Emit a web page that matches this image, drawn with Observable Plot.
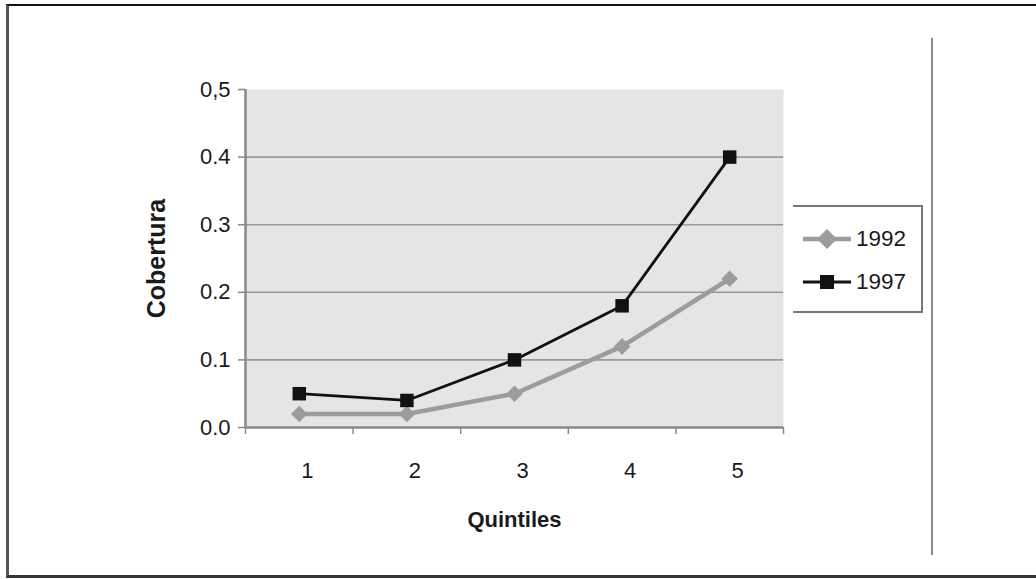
<!DOCTYPE html>
<html>
<head>
<meta charset="utf-8">
<script src="https://cdn.jsdelivr.net/npm/d3@7"></script>
<script src="https://cdn.jsdelivr.net/npm/@observablehq/plot@0.6"></script>
<style>
  html, body { margin: 0; padding: 0; background: #fff; overflow: hidden; }
  #wrap { position: relative; width: 1036px; height: 579px; font-family: "Liberation Sans", Arial, sans-serif; color: #1a1a1a; }
  #frame { position: absolute; left: 6px; top: 4px; width: 1040px; height: 569px; border-top: 2px solid #111; border-left: 3px solid #555; border-bottom: 3px solid #333; box-sizing: content-box; }
  #divider { position: absolute; left: 931px; top: 38px; width: 2px; height: 517px; background: #8a8a8a; }
  #chart { position: absolute; left: 0; top: 0; }
  #legend { position: absolute; left: 793px; top: 205px; width: 128px; height: 104px; border-top: 2px solid #777; border-right: 2px solid #777; border-bottom: 2px solid #777; background: #fff; }
  .item { position: absolute; left: 8px; height: 24px; display: flex; align-items: center; font-size: 22.5px; color: #1a1a1a; }
  .item svg { margin-right: 3px; }
  g[aria-label="y-axis label"] text, g[aria-label="x-axis label"] text { font-weight: bold; }
  g[aria-label="y-axis label"] text { font-size: 25px; }
  g[aria-label="x-axis label"] text { font-size: 22px; }
</style>
</head>
<body>
<div id="wrap">
  <div id="frame"></div>
  <div id="divider"></div>
  <div id="chart"></div>
  <div id="legend"></div>
</div>
<script>
// ---- data ----
const quintiles = [1, 2, 3, 4, 5];
const series = ["1992", "1997"];
const values1992 = [0.02, 0.02, 0.05, 0.12, 0.22];
const values1997 = [0.05, 0.04, 0.10, 0.18, 0.40];
const yTicks = [0, 0.1, 0.2, 0.3, 0.4, 0.5];
const yTickLabels = ["0.0", "0.1", "0.2", "0.3", "0.4", "0,5"];
const gridValues = [0.1, 0.2, 0.3, 0.4];
const bandEdges = [0.5, 1.5, 2.5, 3.5, 4.5, 5.5];
const xTitle = "Quintiles";
const yTitle = "Cobertura";

const colors = {"1992": "#9c9c9c", "1997": "#111111"};
const widths = {"1992": 4.5, "1997": 2.8};

const diamond = {
  draw(ctx, size) {
    const h = Math.sqrt(size / 2);
    ctx.moveTo(0, -h); ctx.lineTo(h, 0); ctx.lineTo(0, h); ctx.lineTo(-h, 0); ctx.closePath();
  }
};
const symbols = {"1992": diamond, "1997": "square"};
const radii = {"1992": 6.6, "1997": 7.6};

const table = [];
quintiles.forEach((q, i) => {
  table.push({q, v: values1992[i], s: "1992"});
  table.push({q, v: values1997[i], s: "1997"});
});

const chart = Plot.plot({
  width: 1036,
  height: 579,
  marginLeft: 245,
  marginRight: 253,
  marginTop: 89,
  marginBottom: 152,
  style: {fontFamily: "'Liberation Sans', Arial, sans-serif", fontSize: "22px", color: "#1a1a1a", background: "transparent"},
  x: {domain: [0.5, 5.5]},
  y: {domain: [0, 0.5]},
  marks: [
    Plot.frame({fill: "#e5e5e5", stroke: "none"}),
    Plot.ruleY(gridValues, {stroke: "#9a9a9a", strokeWidth: 1.6}),
    Plot.axisY({ticks: yTicks, tickFormat: (d) => yTickLabels[yTicks.indexOf(d)], tickSize: 7, tickPadding: 8,
      stroke: "#888", strokeWidth: 1.5, fontSize: 22,
      label: yTitle, labelAnchor: "center", labelOffset: 98, labelArrow: "none"}),
    Plot.axisX({ticks: bandEdges, tickSize: 7, tickFormat: () => "", stroke: "#888", strokeWidth: 1.5, label: null}),
    Plot.axisX({ticks: quintiles, tickSize: 0, tickPadding: 35, tickFormat: d => String(d), fontSize: 22, dx: 8,
      label: xTitle, labelAnchor: "center", labelOffset: 99, labelArrow: "none"}),
    Plot.ruleX([0.5], {y1: 0, y2: 0.5, stroke: "#8a8a8a", strokeWidth: 2.5}),
    Plot.ruleY([0], {stroke: "#8a8a8a", strokeWidth: 2.5}),
    ...series.map(s => Plot.line(table.filter(d => d.s === s), {x: "q", y: "v", stroke: colors[s], strokeWidth: widths[s]})),
    ...series.map(s => Plot.dot(table.filter(d => d.s === s), {x: "q", y: "v", symbol: () => symbols[s], r: radii[s], fill: colors[s], stroke: "none"}))
  ]
});
document.getElementById("chart").appendChild(chart);

// ---- legend ----
const legend = document.getElementById("legend");
const legendTops = {"1992": 20, "1997": 63};
series.forEach(s => {
  const item = document.createElement("div");
  item.className = "item";
  item.style.top = legendTops[s] + "px";
  const sym = s === "1992"
    ? `<polygon points="26,2 36,12 26,22 16,12" fill="${colors[s]}"/>`
    : `<rect x="19" y="5" width="14" height="14" fill="${colors[s]}"/>`;
  item.innerHTML = `<svg width="52" height="24"><line x1="2" x2="50" y1="12" y2="12" stroke="${colors[s]}" stroke-width="${widths[s]}"/>${sym}</svg><span>${s}</span>`;
  legend.appendChild(item);
});
</script>
</body>
</html>
